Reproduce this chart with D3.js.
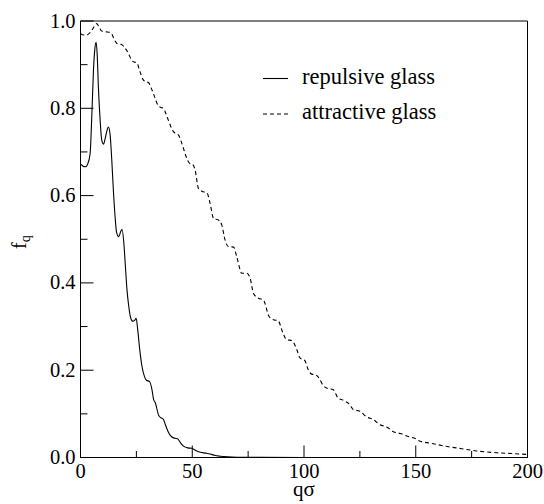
<!DOCTYPE html>
<html>
<head>
<meta charset="utf-8">
<script src="https://cdn.jsdelivr.net/npm/d3@7"></script>
<style>
  html, body { margin: 0; padding: 0; background: #fff; }
  svg { display: block; }
</style>
</head>
<body>
<svg id="chart" width="544" height="504"></svg>
<script>
// Non-ergodicity parameter f_q versus wave vector qσ
const repulsiveQ = [0, 1, 2.2, 3.2, 4.3, 5.1, 5.8, 6.4, 7.0, 7.5, 8.0, 8.8, 9.5, 10.3, 11.0, 11.7, 12.5, 13.2, 14.0, 14.7, 15.5, 16.1, 17.1, 18.0, 18.6, 19.4, 20.1, 20.8, 21.6, 22.3, 23.4, 24.2, 24.9, 25.6, 26.5, 27.5, 28.6, 29.5, 30.9, 32.0, 32.7, 33.5, 35.0, 36.0, 37.0, 38.2, 39.5, 40.9, 42.3, 43.4, 44.7, 46.1, 48.0, 49.8, 51.5, 53.6, 56.0, 58.0, 60.0, 62.5, 66.0, 70.0, 80.0, 100.0, 150.0, 200.0];
const repulsiveF = [0.673, 0.668, 0.666, 0.672, 0.696, 0.788, 0.887, 0.935, 0.951, 0.92, 0.849, 0.772, 0.727, 0.718, 0.73, 0.746, 0.757, 0.742, 0.681, 0.613, 0.55, 0.517, 0.506, 0.518, 0.523, 0.491, 0.437, 0.384, 0.346, 0.323, 0.312, 0.314, 0.319, 0.293, 0.247, 0.209, 0.186, 0.177, 0.174, 0.155, 0.133, 0.125, 0.096, 0.091, 0.088, 0.072, 0.056, 0.047, 0.044, 0.043, 0.034, 0.026, 0.022, 0.021, 0.016, 0.012, 0.010, 0.008, 0.005, 0.003, 0.0015, 0.0007, 0.0002, 0, 0, 0];

const attractiveQ = [0, 1.5, 2.8, 4.0, 5.0, 6.2, 7.3, 8.4, 9.5, 10.6, 11.7, 12.9, 14.0, 15.1, 16.2, 17.3, 18.4, 19.9, 21.4, 22.9, 24.0, 25.1, 26.6, 28.1, 29.2, 30.4, 31.5, 32.6, 34.8, 36.0, 37.1, 38.2, 39.3, 41.5, 42.6, 43.8, 44.9, 46.0, 48.2, 49.3, 50.4, 51.3, 52.8, 54.3, 56.6, 58.0, 59.5, 61.7, 63.2, 64.7, 66.2, 68.5, 69.9, 72.2, 74.4, 75.9, 77.4, 79.6, 81.8, 84.4, 86.7, 88.3, 90.6, 92.2, 94.5, 96.8, 98.2, 100.4, 101.9, 103.4, 104.9, 106.4, 108.6, 110.1, 113.1, 115.3, 117.6, 120.5, 122.0, 125.0, 128.0, 131.0, 134.0, 137.0, 140.0, 143.0, 147.3, 150.0, 152.0, 155.0, 159.2, 163.0, 168.2, 172.0, 177.1, 181.0, 186.0, 193.0, 200.0];
const attractiveF = [0.971, 0.968, 0.968, 0.972, 0.978, 0.988, 0.994, 0.985, 0.977, 0.976, 0.975, 0.974, 0.970, 0.958, 0.949, 0.947, 0.946, 0.938, 0.926, 0.910, 0.906, 0.905, 0.884, 0.865, 0.861, 0.859, 0.848, 0.834, 0.806, 0.802, 0.800, 0.788, 0.773, 0.747, 0.742, 0.739, 0.726, 0.709, 0.678, 0.672, 0.670, 0.658, 0.616, 0.610, 0.606, 0.582, 0.548, 0.544, 0.533, 0.498, 0.483, 0.482, 0.460, 0.422, 0.422, 0.411, 0.376, 0.365, 0.361, 0.323, 0.315, 0.314, 0.285, 0.270, 0.268, 0.247, 0.228, 0.222, 0.201, 0.191, 0.190, 0.184, 0.165, 0.159, 0.155, 0.136, 0.131, 0.121, 0.110, 0.106, 0.093, 0.087, 0.075, 0.070, 0.059, 0.055, 0.047, 0.043, 0.037, 0.034, 0.030, 0.026, 0.022, 0.019, 0.015, 0.013, 0.011, 0.009, 0.007];

const xMajorTicks = [0, 50, 100, 150, 200];
const xMinorTicks = [25, 75, 125, 175];
const yMajorTicks = [0, 0.2, 0.4, 0.6, 0.8, 1.0];
const yMinorTicks = [0.1, 0.3, 0.5, 0.7, 0.9];
const seriesNames = ["repulsive glass", "attractive glass"];

const SERIF = '"Liberation Serif"';

const svg = d3.select("#chart");
const x = d3.scaleLinear().domain([0, 200]).range([80.5, 527.5]);
const y = d3.scaleLinear().domain([0, 1]).range([457.5, 21]);

const fmt = d3.format(".1f");

// axes with inward ticks
function styleAxis(g) {
  g.select(".domain").remove();
  g.selectAll(".tick line").attr("stroke", "#000").attr("stroke-width", 1);
  g.selectAll(".tick text")
    .style("font-family", SERIF).style("font-size", "20.5px").style("fill", "#000");
}

svg.append("g").attr("transform", `translate(0,${y(0)})`)
  .call(d3.axisBottom(x).tickValues(xMajorTicks).tickFormat(d3.format("d")).tickSize(-12).tickPadding(5.5).offset(0))
  .call(styleAxis);
svg.append("g").attr("transform", `translate(0,${y(0)})`)
  .call(d3.axisBottom(x).tickValues(xMinorTicks).tickFormat("").tickSize(-6.5).offset(0))
  .call(styleAxis);
svg.append("g").attr("transform", `translate(${x(0)},0)`)
  .call(d3.axisLeft(y).tickValues(yMajorTicks).tickFormat(fmt).tickSize(-13).tickPadding(5).offset(0))
  .call(styleAxis);
svg.append("g").attr("transform", `translate(${x(0)},0)`)
  .call(d3.axisLeft(y).tickValues(yMinorTicks).tickFormat("").tickSize(-7).offset(0))
  .call(styleAxis);

// plot frame
svg.append("line").attr("x1", x(0)).attr("x2", x(0)).attr("y1", y(1)).attr("y2", y(0)).attr("stroke", "#000");
svg.append("line").attr("x1", x(0)).attr("x2", x(200)).attr("y1", y(0)).attr("y2", y(0)).attr("stroke", "#000");
svg.append("line").attr("x1", x(200)).attr("x2", x(200)).attr("y1", y(1)).attr("y2", y(0)).attr("stroke", "#000");
svg.append("line").attr("x1", x(0)).attr("x2", x(200)).attr("y1", y(1)).attr("y2", y(1)).attr("stroke", "#000");

const line = d3.line().x(d => x(d[0])).y(d => y(d[1])).curve(d3.curveMonotoneX);

const repulsive = repulsiveQ.map((q, i) => [q, repulsiveF[i]]);
const attractive = attractiveQ.map((q, i) => [q, attractiveF[i]]);

svg.append("path").datum(attractive).attr("d", line)
  .attr("fill", "none").attr("stroke", "#000").attr("stroke-width", 1.1).attr("stroke-dasharray", "4,3");
svg.append("path").datum(repulsive).attr("d", line)
  .attr("fill", "none").attr("stroke", "#000").attr("stroke-width", 1.1);

// legend
const legend = svg.append("g");
const dashes = [null, "4,3"];
const legendY = [78.5, 114];
seriesNames.forEach((name, i) => {
  legend.append("line").attr("x1", 263).attr("x2", 288).attr("y1", legendY[i]).attr("y2", legendY[i])
    .attr("stroke", "#000").attr("stroke-width", 1.1).attr("stroke-dasharray", dashes[i]);
  legend.append("text").attr("x", 302).attr("y", legendY[i] + 5)
    .style("font-family", SERIF).style("font-size", "22.5px").text(name);
});

// axis titles
svg.append("text").attr("x", 304).attr("y", 496).attr("text-anchor", "middle")
  .style("font-family", SERIF).style("font-size", "21px").text("qσ");

const yTitle = svg.append("text").attr("transform", "translate(26,249) rotate(-90)")
  .style("font-family", SERIF).style("font-size", "20px");
yTitle.append("tspan").text("f");
yTitle.append("tspan").attr("dy", "0.3em").style("font-size", "14px").text("q");
</script>
</body>
</html>
